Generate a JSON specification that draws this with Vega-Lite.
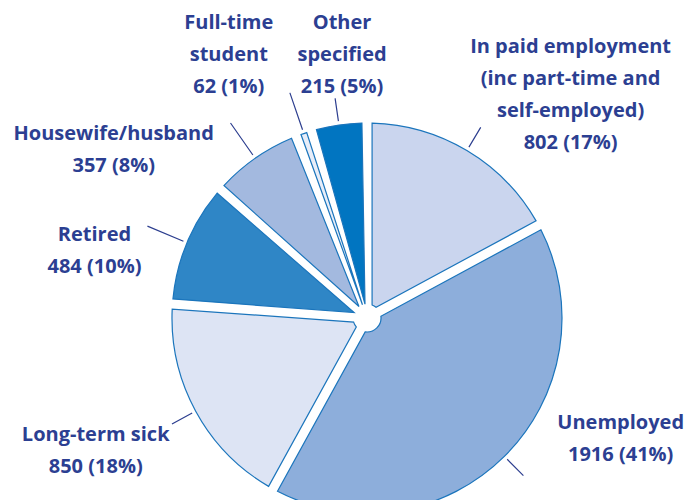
{
  "$schema": "https://vega.github.io/schema/vega-lite/v6.json",
  "width": 600,
  "height": 364,
  "autosize": {"type": "none"},
  "padding": {"left": 67, "top": 136, "right": 22, "bottom": 0},
  "background": "white",
  "view": {"stroke": null},
  "data": {
    "values": [
      {"cat": "In paid employment", "value": 802, "order": 1, "label": "In paid employment\n(inc part-time and\nself-employed)\n802 (17%)"},
      {"cat": "Unemployed", "value": 1916, "order": 2, "label": "Unemployed\n1916 (41%)"},
      {"cat": "Long-term sick", "value": 850, "order": 3, "label": "Long-term sick\n850 (18%)"},
      {"cat": "Retired", "value": 484, "order": 4, "label": "Retired\n484 (10%)"},
      {"cat": "Housewife/husband", "value": 357, "order": 5, "label": "Housewife/husband\n357 (8%)"},
      {"cat": "Full-time student", "value": 62, "order": 6, "label": "Full-time\nstudent\n62 (1%)"},
      {"cat": "Other specified", "value": 215, "order": 7, "label": "Other\nspecified\n215 (5%)"}
    ]
  },
  "encoding": {
    "theta": {"field": "value", "type": "quantitative", "stack": true},
    "order": {"field": "order", "type": "quantitative", "sort": "ascending"}
  },
  "layer": [
    {
      "mark": {"type": "arc", "radius": 195, "radius2": 14, "padAngle": 0.052, "stroke": "#1b75bc", "strokeWidth": 1.2},
      "encoding": {
        "color": {
          "field": "cat", "type": "nominal", "legend": null,
          "scale": {
            "domain": ["In paid employment", "Unemployed", "Long-term sick", "Retired", "Housewife/husband", "Full-time student", "Other specified"],
            "range": ["#cad5ee", "#8daedb", "#dde4f4", "#2f86c6", "#a3b9df", "#e8edf8", "#0175c1"]
          }
        }
      }
    },
    {
      "mark": {"type": "arc", "radius": 222, "radius2": 199, "padAngle": 3, "filled": false, "stroke": "#2c3e8f", "strokeWidth": 1.2},
      "encoding": {
        "strokeOpacity": {"condition": {"test": "indexof(['In paid employment','Unemployed','Long-term sick','Other specified'], datum.cat) >= 0", "value": 1}, "value": 0}
      }
    },
    {
      "mark": {"type": "arc", "radius": 238, "radius2": 199, "padAngle": 3, "filled": false, "stroke": "#2c3e8f", "strokeWidth": 1.2},
      "encoding": {
        "strokeOpacity": {"condition": {"test": "indexof(['Full-time student','Housewife/husband','Retired'], datum.cat) >= 0", "value": 1}, "value": 0}
      }
    },
    {
      "mark": {"type": "text", "radius": 296, "dx": 52, "dy": -17, "font": "Open Sans", "fontWeight": "bold", "fontSize": 20, "lineHeight": 32, "lineBreak": "\n", "align": "center", "baseline": "middle", "color": "#2c3f92"},
      "encoding": {"text": {"condition": {"test": "datum.cat === 'In paid employment'", "field": "label"}, "value": ""}}
    },
    {
      "mark": {"type": "text", "radius": 265, "dx": 67, "dy": -83, "font": "Open Sans", "fontWeight": "bold", "fontSize": 20, "lineHeight": 32, "lineBreak": "\n", "align": "center", "baseline": "middle", "color": "#2c3f92"},
      "encoding": {"text": {"condition": {"test": "datum.cat === 'Unemployed'", "field": "label"}, "value": ""}}
    },
    {
      "mark": {"type": "text", "radius": 302, "dx": -6, "dy": -27, "font": "Open Sans", "fontWeight": "bold", "fontSize": 20, "lineHeight": 32, "lineBreak": "\n", "align": "center", "baseline": "middle", "color": "#2c3f92"},
      "encoding": {"text": {"condition": {"test": "datum.cat === 'Long-term sick'", "field": "label"}, "value": ""}}
    },
    {
      "mark": {"type": "text", "radius": 277, "dx": -17, "dy": 24, "font": "Open Sans", "fontWeight": "bold", "fontSize": 20, "lineHeight": 32, "lineBreak": "\n", "align": "center", "baseline": "middle", "color": "#2c3f92"},
      "encoding": {"text": {"condition": {"test": "datum.cat === 'Retired'", "field": "label"}, "value": ""}}
    },
    {
      "mark": {"type": "text", "radius": 283, "dx": -91, "dy": 48, "font": "Open Sans", "fontWeight": "bold", "fontSize": 20, "lineHeight": 32, "lineBreak": "\n", "align": "center", "baseline": "middle", "color": "#2c3f92"},
      "encoding": {"text": {"condition": {"test": "datum.cat === 'Housewife/husband'", "field": "label"}, "value": ""}}
    },
    {
      "mark": {"type": "text", "radius": 294, "dx": -43, "dy": -17, "font": "Open Sans", "fontWeight": "bold", "fontSize": 20, "lineHeight": 32, "lineBreak": "\n", "align": "center", "baseline": "middle", "color": "#2c3f92"},
      "encoding": {"text": {"condition": {"test": "datum.cat === 'Full-time student'", "field": "label"}, "value": ""}}
    },
    {
      "mark": {"type": "text", "radius": 264, "dx": 13, "dy": -34, "font": "Open Sans", "fontWeight": "bold", "fontSize": 20, "lineHeight": 32, "lineBreak": "\n", "align": "center", "baseline": "middle", "color": "#2c3f92"},
      "encoding": {"text": {"condition": {"test": "datum.cat === 'Other specified'", "field": "label"}, "value": ""}}
    }
  ]
}
